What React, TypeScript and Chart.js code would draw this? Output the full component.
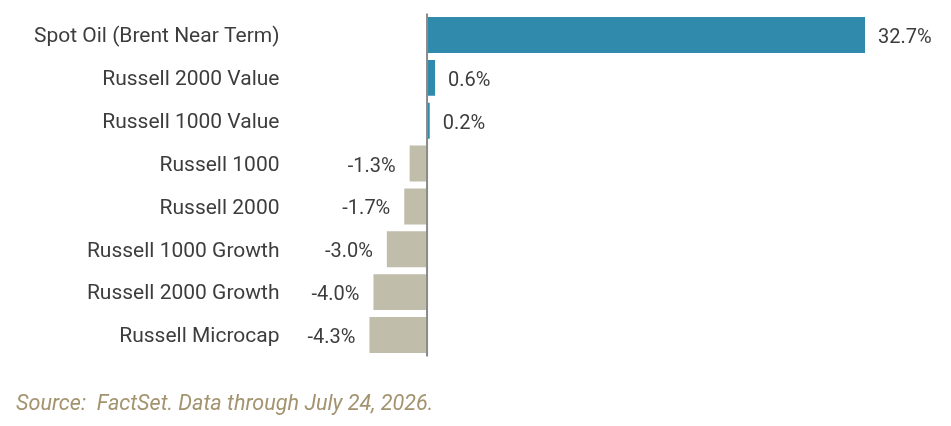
import React, { useEffect, useRef } from "react";
import { Chart, registerables } from "chart.js";

Chart.register(...registerables);

const categories = [
  "Spot Oil (Brent Near Term)",
  "Russell 2000 Value",
  "Russell 1000 Value",
  "Russell 1000",
  "Russell 2000",
  "Russell 1000 Growth",
  "Russell 2000 Growth",
  "Russell Microcap",
];
const returns = [32.7, 0.6, 0.2, -1.3, -1.7, -3.0, -4.0, -4.3];
const sourceText = "Source:  FactSet. Data through July 24, 2026.";

const POS = "#2f8aab";
const NEG = "#c0bdab";
const FONT = "Roboto, sans-serif";

export default function App() {
  const ref = useRef<HTMLCanvasElement | null>(null);
  useEffect(() => {
    if (!ref.current) return;
    const overlay = {
      id: "overlay",
      afterDatasetsDraw(chart: any) {
        const { ctx, chartArea, scales } = chart;
        const x0 = scales.x.getPixelForValue(0);
        ctx.save();
        ctx.strokeStyle = "#8a8a8a";
        ctx.lineWidth = 2;
        ctx.beginPath();
        ctx.moveTo(x0, chartArea.top);
        ctx.lineTo(x0, chartArea.bottom);
        ctx.stroke();
        const meta = chart.getDatasetMeta(0);
        ctx.font = `20px ${FONT}`;
        ctx.fillStyle = "#3d3d3d";
        ctx.textBaseline = "middle";
        meta.data.forEach((bar: any, i: number) => {
          const v = returns[i];
          const label = v.toFixed(1) + "%";
          if (v >= 0) {
            ctx.textAlign = "left";
            ctx.fillText(label, bar.x + 13, bar.y + 3);
          } else {
            ctx.textAlign = "right";
            ctx.fillText(label, bar.x - 14, bar.y + 3);
          }
        });
        ctx.font = `italic 21.6px ${FONT}`;
        ctx.fillStyle = "#a3946f";
        ctx.textAlign = "left";
        ctx.textBaseline = "alphabetic";
        ctx.fillText(sourceText, 16, 410);
        ctx.restore();
      },
    };
    const chart = new Chart(ref.current, {
      type: "bar",
      data: {
        labels: categories,
        datasets: [
          {
            data: returns,
            backgroundColor: returns.map((v) => (v >= 0 ? POS : NEG)),
            barPercentage: 0.84,
            categoryPercentage: 1,
          },
        ],
      },
      options: {
        indexAxis: "y",
        animation: false,
        responsive: false,
        maintainAspectRatio: false,
        layout: { padding: { top: 13.6, bottom: 69.6, left: 0, right: 41.8 } },
        plugins: { legend: { display: false }, tooltip: { enabled: false } },
        scales: {
          x: {
            min: -9,
            max: 36,
            display: false,
            grid: { display: false },
          },
          y: {
            grid: { display: false, drawTicks: false },
            border: { display: false },
            ticks: {
              padding: 27,
              labelOffset: 2,
              color: "#3d3d3d",
              font: { family: FONT, size: 21 },
            },
            afterFit(scale: any) {
              scale.width = 306.5;
              scale.paddingTop = 0;
              scale.paddingBottom = 0;
            },
          },
        },
      },
      plugins: [overlay],
    });
    return () => chart.destroy();
  }, []);
  return (
    <div style={{ position: "fixed", left: 0, top: 0, width: 951, height: 426, background: "#fff" }}>
      <canvas ref={ref} width={951} height={426} style={{ width: 951, height: 426 }} />
    </div>
  );
}
